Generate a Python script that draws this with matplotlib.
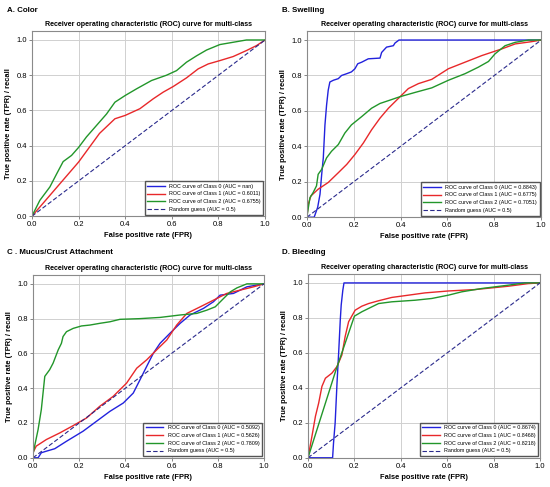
import matplotlib
matplotlib.use("Agg")
import matplotlib.pyplot as plt
import numpy as np

plt.rcParams['font.family'] = ['Liberation Sans', 'DejaVu Sans']
plt.rcParams['font.size'] = 5.5

TITLE = "Receiver operating characteristic (ROC) curve for multi-class"
PANEL_NAMES = ["A. Color", "B. Swelling", "C . Mucus/Crust Attachment", "D. Bleeding"]

# ---- A. Color ----
a_auc = [np.nan, 0.6011, 0.6755]
a_fpr0 = [0.0, 1.0]
a_tpr0 = [np.nan, np.nan]
a_fpr1 = [0.0, 0.2, 0.29, 0.356, 0.4, 0.463, 0.52, 0.563, 0.606, 0.663, 0.713,
          0.756, 0.806, 0.863, 0.92, 0.963, 1.0]
a_tpr1 = [0.0, 0.307, 0.47, 0.553, 0.572, 0.61, 0.666, 0.704, 0.736, 0.785, 0.836,
          0.864, 0.883, 0.906, 0.94, 0.968, 1.0]
a_fpr2 = [0.0, 0.034, 0.077, 0.106, 0.134, 0.17, 0.2, 0.234, 0.277, 0.32, 0.356,
          0.4, 0.449, 0.513, 0.577, 0.62, 0.663, 0.706, 0.749, 0.806, 0.863, 0.92, 1.0]
a_tpr2 = [0.0, 0.09, 0.166, 0.24, 0.31, 0.345, 0.39, 0.45, 0.515, 0.58, 0.647,
          0.685, 0.723, 0.77, 0.8, 0.826, 0.874, 0.91, 0.943, 0.974, 0.987, 1.0, 1.0]

# ---- B. Swelling ----
b_auc = [0.8843, 0.6775, 0.7051]
b_fpr0 = [0.0, 0.031, 0.046, 0.056, 0.063, 0.07, 0.077, 0.084, 0.091, 0.098, 0.113,
          0.134, 0.148, 0.17, 0.19, 0.205, 0.217, 0.234, 0.262, 0.312, 0.319, 0.34,
          0.369, 0.376, 0.393, 1.0]
b_tpr0 = [0.0, 0.0, 0.056, 0.13, 0.24, 0.335, 0.52, 0.633, 0.717, 0.763, 0.773,
          0.782, 0.8, 0.81, 0.82, 0.838, 0.866, 0.875, 0.894, 0.898, 0.93, 0.96,
          0.968, 0.983, 1.0, 1.0]
b_fpr1 = [0.0, 0.006, 0.017, 0.048, 0.091, 0.134, 0.17, 0.205, 0.241, 0.276, 0.312,
          0.348, 0.39, 0.433, 0.476, 0.533, 0.604, 0.675, 0.746, 0.832, 0.889, 0.96, 1.0]
b_tpr1 = [0.0, 0.074, 0.12, 0.158, 0.196, 0.251, 0.298, 0.354, 0.419, 0.493, 0.559,
          0.615, 0.67, 0.726, 0.754, 0.778, 0.838, 0.875, 0.912, 0.95, 0.978, 0.991, 1.0]
b_fpr2 = [0.0, 0.003, 0.013, 0.027, 0.041, 0.048, 0.063, 0.084, 0.105, 0.134, 0.162,
          0.19, 0.234, 0.276, 0.312, 0.355, 0.397, 0.461, 0.533, 0.604, 0.675, 0.732,
          0.775, 0.803, 0.846, 0.889, 0.946, 1.0]
b_tpr2 = [0.0, 0.028, 0.11, 0.14, 0.177, 0.242, 0.27, 0.335, 0.372, 0.41, 0.475,
          0.521, 0.568, 0.615, 0.642, 0.661, 0.68, 0.704, 0.73, 0.773, 0.81, 0.847,
          0.879, 0.922, 0.968, 0.987, 1.0, 1.0]

# ---- C. Mucus/Crust Attachment ----
c_auc = [0.5092, 0.5626, 0.7809]
c_fpr0 = [0.0, 0.022, 0.036, 0.058, 0.094, 0.145, 0.217, 0.275, 0.333, 0.391, 0.434,
          0.463, 0.492, 0.521, 0.55, 0.593, 0.637, 0.68, 0.738, 0.781, 0.81, 0.868,
          0.926, 1.0]
c_tpr0 = [0.0, 0.0, 0.029, 0.038, 0.052, 0.095, 0.153, 0.21, 0.267, 0.315, 0.372,
          0.448, 0.525, 0.601, 0.658, 0.716, 0.773, 0.821, 0.859, 0.897, 0.935, 0.945,
          0.983, 1.0]
c_fpr1 = [0.0, 0.014, 0.058, 0.116, 0.174, 0.232, 0.289, 0.347, 0.405, 0.449, 0.492,
          0.535, 0.579, 0.622, 0.666, 0.724, 0.781, 0.839, 0.897, 0.955, 1.0]
c_tpr1 = [0.03, 0.067, 0.105, 0.143, 0.185, 0.229, 0.296, 0.353, 0.429, 0.515, 0.563,
          0.62, 0.677, 0.763, 0.83, 0.868, 0.906, 0.945, 0.964, 0.983, 1.0]
c_fpr2 = [0.0, 0.007, 0.022, 0.036, 0.051, 0.072, 0.087, 0.109, 0.123, 0.13, 0.145,
          0.174, 0.21, 0.246, 0.289, 0.333, 0.376, 0.463, 0.55, 0.637, 0.709, 0.753,
          0.789, 0.825, 0.854, 0.883, 0.926, 1.0]
c_tpr2 = [0.02, 0.067, 0.162, 0.277, 0.468, 0.506, 0.544, 0.62, 0.658, 0.697, 0.725,
          0.744, 0.758, 0.763, 0.773, 0.782, 0.796, 0.8, 0.807, 0.821, 0.83, 0.849,
          0.868, 0.916, 0.954, 0.977, 1.0, 1.0]

# ---- D. Bleeding ----
d_auc = [0.8674, 0.8468, 0.8218]
d_fpr0 = [0.0, 0.106, 0.11, 0.117, 0.125, 0.132, 0.139, 0.143, 0.15, 0.155, 1.0]
d_tpr0 = [0.0, 0.0, 0.085, 0.2, 0.427, 0.598, 0.787, 0.873, 0.958, 1.0, 1.0]
d_fpr1 = [0.0, 0.017, 0.032, 0.046, 0.06, 0.075, 0.103, 0.125, 0.146, 0.16, 0.175,
          0.203, 0.232, 0.261, 0.304, 0.361, 0.433, 0.504, 0.605, 0.719, 0.862, 0.948, 1.0]
d_tpr1 = [0.0, 0.123, 0.237, 0.313, 0.408, 0.455, 0.484, 0.522, 0.588, 0.693, 0.778,
          0.844, 0.867, 0.882, 0.898, 0.917, 0.93, 0.943, 0.954, 0.962, 0.981, 0.996, 1.0]
d_fpr2 = [0.0, 0.12, 0.2, 0.232, 0.261, 0.304, 0.361, 0.461, 0.533, 0.605, 0.662,
          0.748, 0.862, 0.934, 1.0]
d_tpr2 = [0.0, 0.5, 0.81, 0.835, 0.854, 0.882, 0.892, 0.901, 0.911, 0.93, 0.949,
          0.968, 0.987, 1.0, 1.0]

panels = [
    (a_fpr0, a_tpr0, a_fpr1, a_tpr1, a_fpr2, a_tpr2, a_auc),
    (b_fpr0, b_tpr0, b_fpr1, b_tpr1, b_fpr2, b_tpr2, b_auc),
    (c_fpr0, c_tpr0, c_fpr1, c_tpr1, c_fpr2, c_tpr2, c_auc),
    (d_fpr0, d_tpr0, d_fpr1, d_tpr1, d_fpr2, d_tpr2, d_auc),
]

COLORS = ['#2222dd', '#e8282a', '#22962a']

# axes rectangles [left, bottom, width, height] in figure fractions
rects = [
    [0.058, 0.556, 0.424, 0.380],
    [0.558, 0.554, 0.426, 0.382],
    [0.060, 0.060, 0.420, 0.375],
    [0.560, 0.060, 0.422, 0.377],
]
label_pos = [(0.013, 0.979), (0.513, 0.979), (0.013, 0.482), (0.513, 0.482)]


def fmt_auc(v):
    return "nan" if np.isnan(v) else f"{v:.4f}"


fig = plt.figure(figsize=(5.5, 4.87), dpi=100)

for i, (f0, t0, f1, t1, f2, t2, auc) in enumerate(panels):
    ax = fig.add_axes(rects[i])
    curves = [(f0, t0), (f1, t1), (f2, t2)]
    for k, (f, t) in enumerate(curves):
        ax.plot(f, t, color=COLORS[k], lw=1.0,
                label=f"ROC curve of Class {k} (AUC = {fmt_auc(auc[k])})")
    ax.plot([0, 1], [0, 1], color='#2a2a8c', lw=0.8, ls=(0, (4, 2)),
            label='Random guess (AUC = 0.5)')

    ax.set_xlim(0, 1)
    ax.set_ylim(0, 1.05)
    ax.set_xticks(np.arange(0, 1.01, 0.2))
    ax.set_yticks(np.arange(0, 1.01, 0.2))
    ax.grid(True, color='#d0d0d0', lw=0.7)
    ax.set_axisbelow(True)
    for s in ax.spines.values():
        s.set_color('#8a8a8a')
        s.set_linewidth(0.8)
    ax.tick_params(length=2, width=0.5, color='#555555', pad=1.5, labelsize=5.5)

    ax.set_title(TITLE, fontsize=5.15, fontweight='bold', pad=4)
    ax.set_xlabel('False positive rate (FPR)', fontsize=5.4, fontweight='bold', labelpad=3)
    ax.set_ylabel('True positive rate (TPR) / recall', fontsize=5.4, fontweight='bold', labelpad=3)

    ax.legend(loc='lower right', fontsize=3.9, frameon=True, fancybox=False,
              edgecolor='#555555', framealpha=1, borderaxespad=0.3,
              handlelength=3.2, handletextpad=0.8, labelspacing=0.5, borderpad=0.5)

    fig.text(label_pos[i][0], label_pos[i][1], PANEL_NAMES[i],
             fontsize=5.7, fontweight='bold', va='center', ha='left')

fig.savefig('out.png', dpi=100)
